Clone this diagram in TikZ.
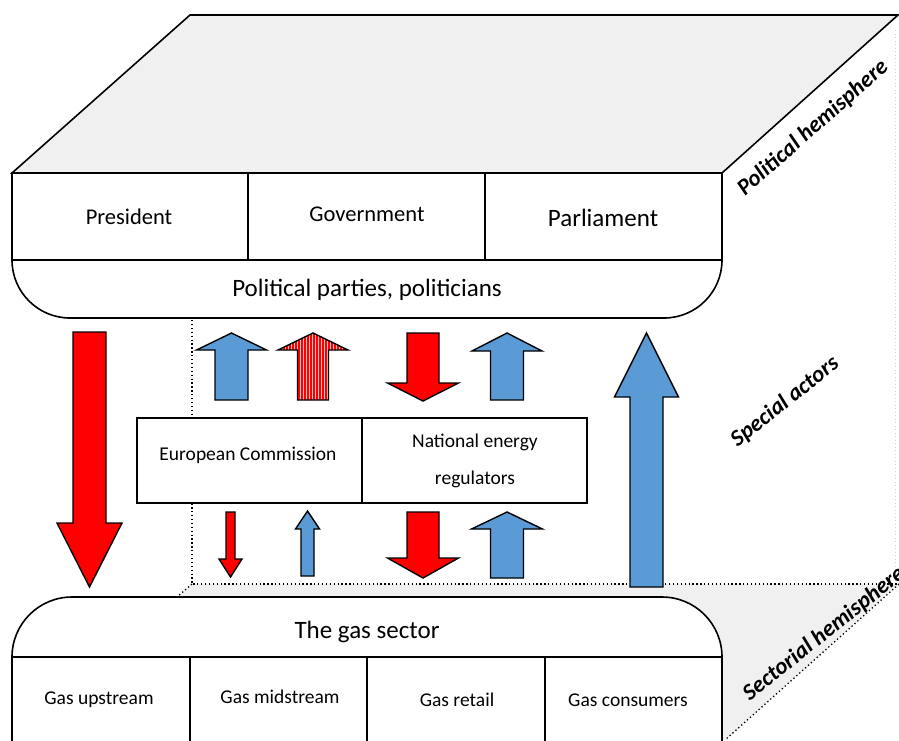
\documentclass[tikz,border=0pt]{standalone}
\usepackage{fontspec}
\setmainfont{Carlito}
\definecolor{arrred}{HTML}{FF0000}
\definecolor{arrblue}{HTML}{5B9BD5}
\definecolor{planegray}{HTML}{F0F0F0}
\definecolor{stripepink}{HTML}{F7C6C6}
\newcommand\blockarrow[7]{%
  \draw[#1] ({#2-#3},#7) -- ({#2-#3},#6) -- ({#2-#4},#6) -- (#2,#5) -- ({#2+#4},#6) -- ({#2+#3},#6) -- ({#2+#3},#7) -- cycle;}
\tikzset{
  outline/.style={draw=black, line width=1.6pt},
  redarr/.style={fill=arrred, draw=black, line width=1.4pt, line join=miter},
  bluearr/.style={fill=arrblue, draw=black, line width=1.4pt, line join=miter},
  dots/.style={black, line width=1.3pt, dash pattern=on 1.3pt off 2.6pt},
  lbl/.style={inner sep=0pt, font=\fontsize{22.5}{26}\selectfont},
  biglbl/.style={inner sep=0pt, font=\fontsize{25}{30}\selectfont},
  smalllbl/.style={inner sep=0pt, font=\fontsize{19.5}{23}\selectfont},
  sidelbl/.style={inner sep=0pt, font=\bfseries\itshape\fontsize{23}{26}\selectfont}
}
\begin{document}
\begin{tikzpicture}[x=1pt,y=-1pt]
\useasboundingbox (0,0) rectangle (899,740);
\begin{scope}
\clip (0,0) rectangle (899,740);
% faint right guide line
\draw[gray!35, line width=0.8pt, dash pattern=on 1pt off 2.5pt] (895,30) -- (895,584);
% floor plane
\fill[planegray] (177,597) -- (192,584) -- (899,584) -- (725,740) -- (720,740) -- cycle;
\draw[dots] (192,320) -- (192,584) -- (899,584);
\draw[dots] (192,584) -- (177,597);
\draw[dots] (899,584) -- (725,740);
% top plane
\draw[outline, fill=planegray, line join=miter] (12,173) -- (190,15) -- (898,15) -- (722,173) -- cycle;
% political boxes
\draw[outline, fill=white, rounded corners=58pt] (12,260) -- (12,318) -- (722,318) -- (722,260);
\draw[outline, fill=white] (12,173) rectangle (722,260);
\draw[outline] (248,173) -- (248,260);
\draw[outline] (485,173) -- (485,260);
\node[lbl] (pres) at (129,217) {President};
\node[lbl] (gov) at (367,214) {Government};
\node[biglbl] (parl) at (603,218) {Parliament};
\node[biglbl] (parties) at (367,290) {Political parties, politicians};
% sector box
\draw[outline, fill=white, rounded corners=60pt] (12,745) -- (12,597) -- (722,597) -- (722,745);
\draw[outline] (12,657) -- (722,657);
\draw[outline] (190,657) -- (190,745);
\draw[outline] (367,657) -- (367,745);
\draw[outline] (545,657) -- (545,745);
\node[biglbl] (gas) at (367,632) {The gas sector};
\node[smalllbl] (up) at (99,700) {Gas upstream};
\node[smalllbl] (mid) at (280,697) {Gas midstream};
\node[smalllbl] (ret) at (457,700) {Gas retail};
\node[smalllbl] (cons) at (628,700) {Gas consumers};
% special actors box
\draw[outline, fill=white] (137,418) rectangle (587,503);
\draw[outline] (362,418) -- (362,503);
\node[smalllbl] (ec) at (248,455) {European Commission};
\node[smalllbl, align=center, font=\fontsize{19.5}{37}\selectfont] (ner) at (475,461) {National energy\\regulators};
% arrows upper row
\blockarrow{bluearr}{231.5}{16.5}{35}{333}{350}{400}
\begin{scope}
  \clip (297,400) -- (297,350) -- (278,350) -- (313,333) -- (348,350) -- (328,350) -- (328,400) -- cycle;
  \fill[stripepink] (270,330) rectangle (355,402);
  \foreach \xx in {278,281,...,350} {\draw[arrred, line width=1.1pt] (\xx,330) -- (\xx,402);}
\end{scope}
\blockarrow{draw=black, line width=1.4pt, line join=miter}{313}{15.5}{35}{333}{350}{400}
\blockarrow{redarr}{423}{16}{35.5}{401}{383}{333}
\blockarrow{bluearr}{507}{16.5}{35}{333}{351}{400}
% arrows lower row
\blockarrow{redarr}{230.5}{4.5}{11.5}{577}{559}{512}
\blockarrow{bluearr}{307.5}{6.5}{12}{511}{529}{576}
\blockarrow{redarr}{423}{16}{35.5}{578}{558}{512}
\blockarrow{bluearr}{507}{16.5}{35.5}{512}{529}{578}
% big arrows
\blockarrow{redarr}{89.5}{16.5}{32.5}{587}{523}{332}
\blockarrow{bluearr}{646.5}{16.5}{32}{333}{397}{587}
% side labels
\node[sidelbl, rotate=41.5] (polh) at (813,128) {Political hemisphere};
\node[sidelbl, rotate=38.5] (spec) at (785,402) {Special actors};
\node[sidelbl, rotate=38.5] (sech) at (824,634) {Sectorial hemisphere};
\end{scope}
\end{tikzpicture}
\end{document}
